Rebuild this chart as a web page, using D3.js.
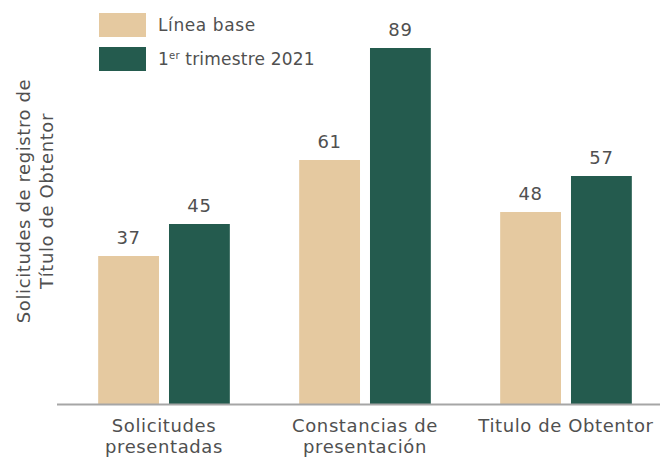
<!DOCTYPE html>
<html>
<head>
<meta charset="utf-8">
<script src="https://cdn.jsdelivr.net/npm/d3@7"></script>
<style>
  body { margin: 0; background: #fff; }
  text { font-family: "DejaVu Sans", sans-serif; fill: #505050; letter-spacing: 0.6px; }
</style>
</head>
<body>
<svg width="660" height="457"></svg>
<script>
var categories = [["Solicitudes", "presentadas"], ["Constancias de", "presentación"], ["Titulo de Obtentor"]];
var baseline = [37, 61, 48];
var trimestre = [45, 89, 57];
var seriesNames = ["Línea base", "1er trimestre 2021"];
var colors = ["#e5c9a0", "#245b4e"];

var svg = d3.select("svg");
var y0 = 404;

var x = d3.scaleBand()
    .domain(d3.range(categories.length))
    .range([62, 668])
    .paddingInner(0.345)
    .paddingOuter(0.18);

var xs = d3.scaleBand()
    .domain([0, 1])
    .range([0, x.bandwidth()])
    .paddingInner(0.141);

var y = d3.scaleLinear()
    .domain([0, 89])
    .range([y0, 48]);

var rows = categories.map(function (c, i) {
    return { i: i, values: [baseline[i], trimestre[i]] };
});

var g = svg.append("g").selectAll("g")
    .data(rows)
    .enter().append("g")
    .attr("transform", function (d) { return "translate(" + x(d.i) + ",0)"; });

g.selectAll("rect")
    .data(function (d) { return d.values.map(function (v, k) { return { k: k, v: v }; }); })
    .enter().append("rect")
    .attr("x", function (d) { return xs(d.k); })
    .attr("y", function (d) { return y(d.v); })
    .attr("width", xs.bandwidth())
    .attr("height", function (d) { return y0 - y(d.v); })
    .attr("fill", function (d) { return colors[d.k]; });

g.selectAll("text.val")
    .data(function (d) { return d.values.map(function (v, k) { return { k: k, v: v }; }); })
    .enter().append("text")
    .attr("class", "val")
    .attr("x", function (d) { return xs(d.k) + xs.bandwidth() / 2; })
    .attr("y", function (d) { return y(d.v) - 12; })
    .attr("text-anchor", "middle")
    .style("font-size", "18px")
    .text(function (d) { return d.v; });

// axis line
svg.append("line")
    .attr("x1", 57).attr("x2", 660)
    .attr("y1", y0 + 0.5).attr("y2", y0 + 0.5)
    .attr("stroke", "#a6a6a6")
    .attr("stroke-width", 2);

// category labels, one text per line
categories.forEach(function (lines, i) {
    lines.forEach(function (s, j) {
        svg.append("text")
            .attr("text-anchor", "middle")
            .attr("x", x(i) + x.bandwidth() / 2)
            .attr("y", 432 + j * 21)
            .style("font-size", "18px")
            .text(s);
    });
});

// y title
svg.append("text")
    .attr("transform", "translate(30,201) rotate(-90)")
    .attr("text-anchor", "middle")
    .style("font-size", "18px")
    .text("Solicitudes de registro de");
svg.append("text")
    .attr("transform", "translate(53,201) rotate(-90)")
    .attr("text-anchor", "middle")
    .style("font-size", "18px")
    .text("Título de Obtentor");

// legend
var leg = svg.append("g").selectAll("g")
    .data(seriesNames)
    .enter().append("g")
    .attr("transform", function (d, i) { return "translate(99," + (13 + i * 34) + ")"; });
leg.append("rect")
    .attr("width", 47).attr("height", 24)
    .attr("fill", function (d, i) { return colors[i]; });
var lt = leg.append("text")
    .attr("x", 59).attr("y", 18)
    .style("font-size", "17px");
lt.each(function (d, i) {
    var t = d3.select(this);
    if (i === 1) {
        t.style("letter-spacing", "0.2px");
        t.append("tspan").text("1");
        t.append("tspan").attr("dy", -6).style("font-size", "10px").text("er");
        t.append("tspan").attr("dy", 6).text(" trimestre 2021");
    } else {
        t.text(d);
    }
});
</script>
</body>
</html>
